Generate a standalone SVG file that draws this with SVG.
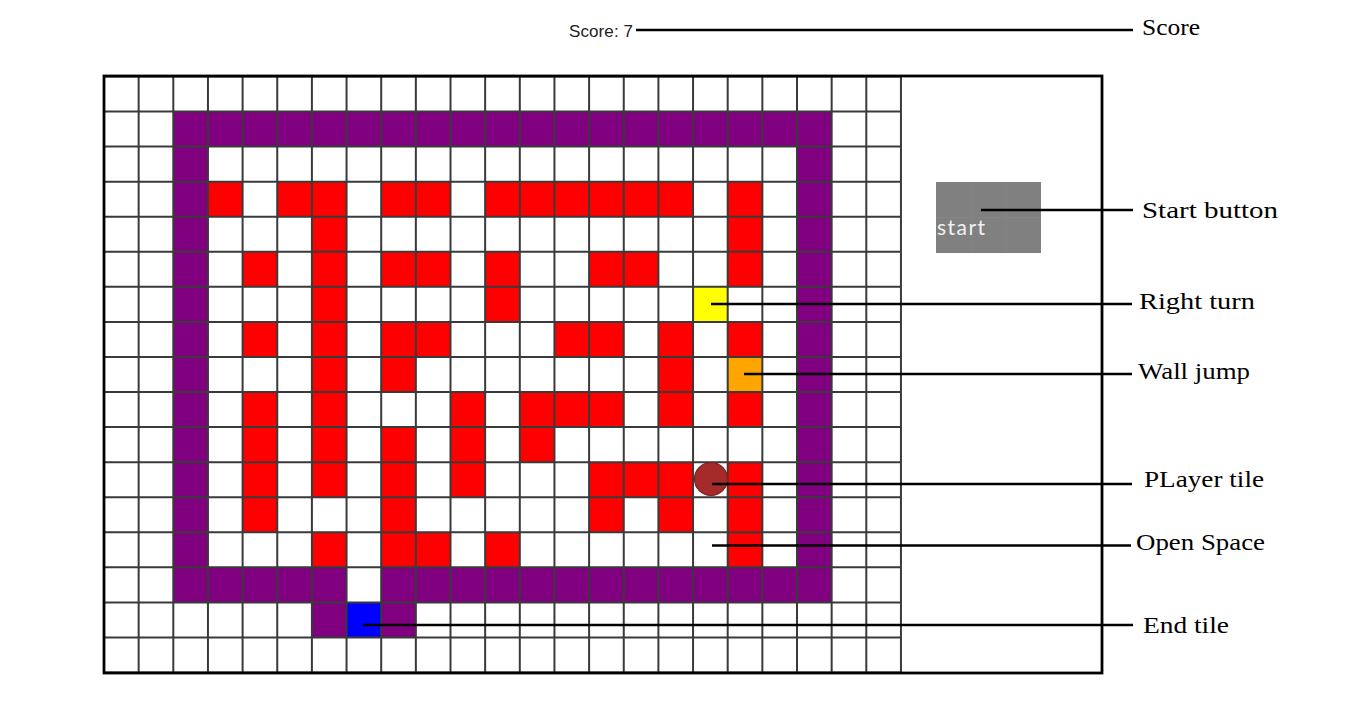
<svg xmlns="http://www.w3.org/2000/svg" width="1365" height="705" viewBox="0 0 1365 705">
<style>
.r{fill:#ff0000}
.p{fill:#800080}
.grid{fill:none;stroke:#3a3a3a;stroke-width:2}
.lbl{font-family:"Liberation Serif","Times New Roman",serif;font-size:24px;fill:#000}
.conn{stroke:#000;stroke-width:2.6;fill:none}
</style>
<rect x="0" y="0" width="1365" height="705" fill="#fff"/>
<g id="score"><text x="569" y="37" font-family="Liberation Sans, Arial, sans-serif" font-size="17" fill="#222" textLength="64">Score: 7</text></g>
<g id="board">
<rect x="104" y="76" width="998" height="597" fill="#fff"/>
<g transform="translate(104,76.5) scale(34.65,35.06)">
<g id="walls">
<rect class="p" x="2" y="1" width="19" height="1"/>
<rect class="p" x="2" y="1" width="1" height="14"/>
<rect class="p" x="20" y="1" width="1" height="14"/>
<rect class="p" x="2" y="14" width="5" height="1"/>
<rect class="p" x="8" y="14" width="13" height="1"/>
<rect class="p" x="6" y="15" width="1" height="1"/>
<rect class="p" x="8" y="15" width="1" height="1"/>
</g>
<g id="blocks">
<rect class="r" x="3" y="3" width="1" height="1"/>
<rect class="r" x="5" y="3" width="2" height="1"/>
<rect class="r" x="8" y="3" width="2" height="1"/>
<rect class="r" x="11" y="3" width="6" height="1"/>
<rect class="r" x="18" y="3" width="1" height="3"/>
<rect class="r" x="6" y="4" width="1" height="6"/>
<rect class="r" x="4" y="5" width="1" height="1"/>
<rect class="r" x="8" y="5" width="2" height="1"/>
<rect class="r" x="11" y="5" width="1" height="2"/>
<rect class="r" x="14" y="5" width="2" height="1"/>
<rect class="r" x="4" y="7" width="1" height="1"/>
<rect class="r" x="8" y="7" width="2" height="1"/>
<rect class="r" x="13" y="7" width="2" height="1"/>
<rect class="r" x="16" y="7" width="1" height="3"/>
<rect class="r" x="18" y="7" width="1" height="1"/>
<rect class="r" x="8" y="8" width="1" height="1"/>
<rect class="r" x="4" y="9" width="1" height="4"/>
<rect class="r" x="6" y="9" width="1" height="3"/>
<rect class="r" x="10" y="9" width="1" height="3"/>
<rect class="r" x="12" y="9" width="3" height="1"/>
<rect class="r" x="18" y="9" width="1" height="1"/>
<rect class="r" x="12" y="10" width="1" height="1"/>
<rect class="r" x="8" y="10" width="1" height="4"/>
<rect class="r" x="14" y="11" width="3" height="1"/>
<rect class="r" x="18" y="11" width="1" height="3"/>
<rect class="r" x="14" y="12" width="1" height="1"/>
<rect class="r" x="16" y="12" width="1" height="1"/>
<rect class="r" x="6" y="13" width="1" height="1"/>
<rect class="r" x="9" y="13" width="1" height="1"/>
<rect class="r" x="11" y="13" width="1" height="1"/>
</g>
<g id="right-turn-tile"><rect x="17" y="6" width="1" height="1" fill="#ffff00"/></g>
<g id="wall-jump-tile"><rect x="18" y="8" width="1" height="1" fill="#ffa500"/></g>
<g id="end-tile"><rect x="7" y="15" width="1" height="1" fill="#0000ff"/></g>
<path class="grid" vector-effect="non-scaling-stroke" d="M0 0V17M1 0V17M2 0V17M3 0V17M4 0V17M5 0V17M6 0V17M7 0V17M8 0V17M9 0V17M10 0V17M11 0V17M12 0V17M13 0V17M14 0V17M15 0V17M16 0V17M17 0V17M18 0V17M19 0V17M20 0V17M21 0V17M22 0V17M23 0V17M0 0H23M0 1H23M0 2H23M0 3H23M0 4H23M0 5H23M0 6H23M0 7H23M0 8H23M0 9H23M0 10H23M0 11H23M0 12H23M0 13H23M0 14H23M0 15H23M0 16H23M0 17H23"/>
</g>
<rect x="104" y="76" width="998" height="597" fill="none" stroke="#000" stroke-width="2.8"/>
</g>
<g id="player-tile"><circle cx="711" cy="479" r="16.5" fill="#a52a2a" stroke="#7a2020" stroke-width="1.2"/></g>
<g id="start-button">
<rect x="936" y="182" width="105" height="71" fill="#808080"/>
<path d="M971.5 182V253M1006.5 182V253M936 217.5H1041" stroke="#858585" stroke-width="0.8"/>
<text x="937" y="235" font-family="Lato, 'Open Sans', sans-serif" font-size="21" fill="#f2f2f2" textLength="48">start</text>
</g>
<g id="connectors">
<line class="conn" x1="636" y1="30" x2="1133" y2="30"/>
<line class="conn" x1="981" y1="210" x2="1133" y2="210"/>
<line class="conn" x1="711" y1="304" x2="1132" y2="304"/>
<line class="conn" x1="744" y1="374" x2="1132" y2="374"/>
<line class="conn" x1="712" y1="484" x2="1132" y2="484"/>
<line class="conn" x1="712" y1="545.5" x2="1131" y2="545.5"/>
<line class="conn" x1="363" y1="625" x2="1133" y2="625"/>
</g>
<g id="labels">
<text class="lbl" x="1142" y="35" textLength="58" lengthAdjust="spacingAndGlyphs">Score</text>
<text class="lbl" x="1142" y="218" textLength="136" lengthAdjust="spacingAndGlyphs">Start button</text>
<text class="lbl" x="1139" y="309" textLength="116" lengthAdjust="spacingAndGlyphs">Right turn</text>
<text class="lbl" x="1138" y="379" textLength="112" lengthAdjust="spacingAndGlyphs">Wall jump</text>
<text class="lbl" x="1144" y="487" textLength="120" lengthAdjust="spacingAndGlyphs">PLayer tile</text>
<text class="lbl" x="1136" y="550" textLength="129" lengthAdjust="spacingAndGlyphs">Open Space</text>
<text class="lbl" x="1143" y="633" textLength="86" lengthAdjust="spacingAndGlyphs">End tile</text>
</g>
</svg>
